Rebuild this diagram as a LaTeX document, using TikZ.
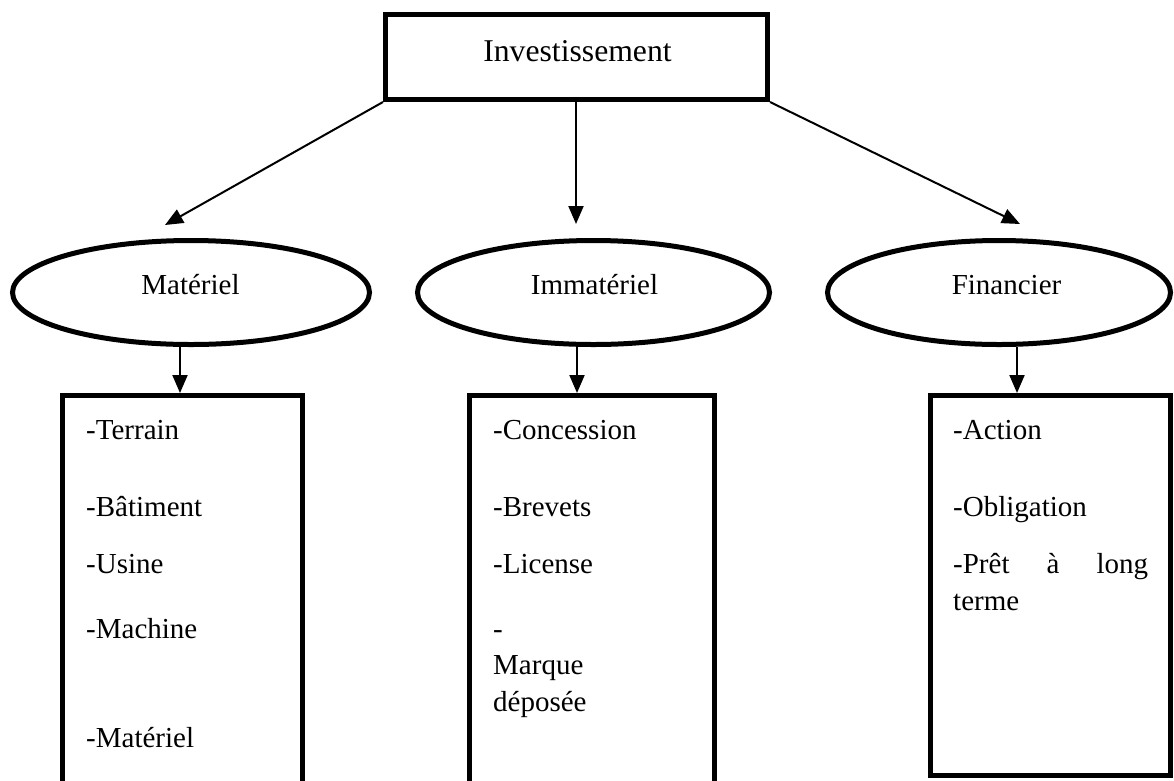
\documentclass[tikz,border=0pt]{standalone}
\usepackage{fontspec}
\setmainfont{Liberation Serif}
\usetikzlibrary{shapes.geometric,arrows.meta}
\begin{document}
\begin{tikzpicture}[x=1pt,y=-1pt,
  boxstyle/.style={draw,line width=5pt,rectangle,inner sep=0pt},
  ellstyle/.style={draw,line width=5pt,ellipse,inner sep=0pt,minimum height=104pt},
  lbl/.style={inner sep=0pt,anchor=base,font=\fontsize{29}{34}\selectfont},
  item/.style={inner sep=0pt,anchor=base west,font=\fontsize{29}{34}\selectfont},
  arr/.style={line width=2pt,-{Triangle[length=18pt,width=15pt]}}]
\clip (0,0) rectangle (1174,780);
\fill[white] (0,0) rectangle (1174,780);
% top box
\node[boxstyle,minimum width=382pt,minimum height=85pt] (top) at (576.5,57) {};
\node[lbl,font=\fontsize{31.7}{36}\selectfont] (ttop) at (577.5,61) {Investissement};
% ellipses
\node[ellstyle,minimum width=357pt] (mat) at (191,292.5) {};
\node[ellstyle,minimum width=352pt] (imm) at (593.5,292.5) {};
\node[ellstyle,minimum width=343pt] (fin) at (999,292.5) {};
\node[lbl] (tmat) at (190.5,294) {Matériel};
\node[lbl] (timm) at (594.5,294) {Immatériel};
\node[lbl] (tfin) at (1006.5,294) {Financier};
% boxes
\node[boxstyle,minimum width=240pt,minimum height=414.5pt] (bmat) at (182.5,602.75) {};
\node[boxstyle,minimum width=245pt,minimum height=414.5pt] (bimm) at (592,602.75) {};
\node[boxstyle,minimum width=239.5pt,minimum height=379.5pt] (bfin) at (1050.25,585.25) {};
% arrows from top
\coordinate (tipm) at (165,225);
\coordinate (tipi) at (576,224);
\coordinate (tipf) at (1020,224);
\draw[arr] (top.south west) -- (tipm);
\draw[arr] (top.south -| tipi) -- (tipi);
\draw[arr] (top.south east) -- (tipf);
% arrows to boxes
\draw[arr] ([xshift=-11pt]mat.south) -- ([xshift=-11pt]mat.south |- bmat.north);
\draw[arr] ([xshift=-16.5pt]imm.south) -- ([xshift=-16.5pt]imm.south |- bimm.north);
\draw[arr] ([xshift=18pt]fin.south) -- ([xshift=18pt]fin.south |- bfin.north);
% items
\node[item] (m1) at (86,439) {-Terrain};
\node[item] (m2) at (86,516) {-Bâtiment};
\node[item] (m3) at (86,573) {-Usine};
\node[item] (m4) at (86,638) {-Machine};
\node[item] (m5) at (86,747) {-Matériel};
\node[item] (i1) at (493,439) {-Concession};
\node[item] (i2) at (493,516) {-Brevets};
\node[item] (i3) at (493,573) {-License};
\node[item] (i4) at (493,638) {-};
\node[item] (i5) at (493,674) {Marque};
\node[item] (i6) at (493,711) {déposée};
\node[item] (f1) at (953,439) {-Action};
\node[item] (f2) at (953,516) {-Obligation};
\node[item] (f3) at (953,573) {\hbox to 195pt{-Prêt\hfill à\hfill long}};
\node[item] (f4) at (953,610) {terme};
\end{tikzpicture}
\end{document}
